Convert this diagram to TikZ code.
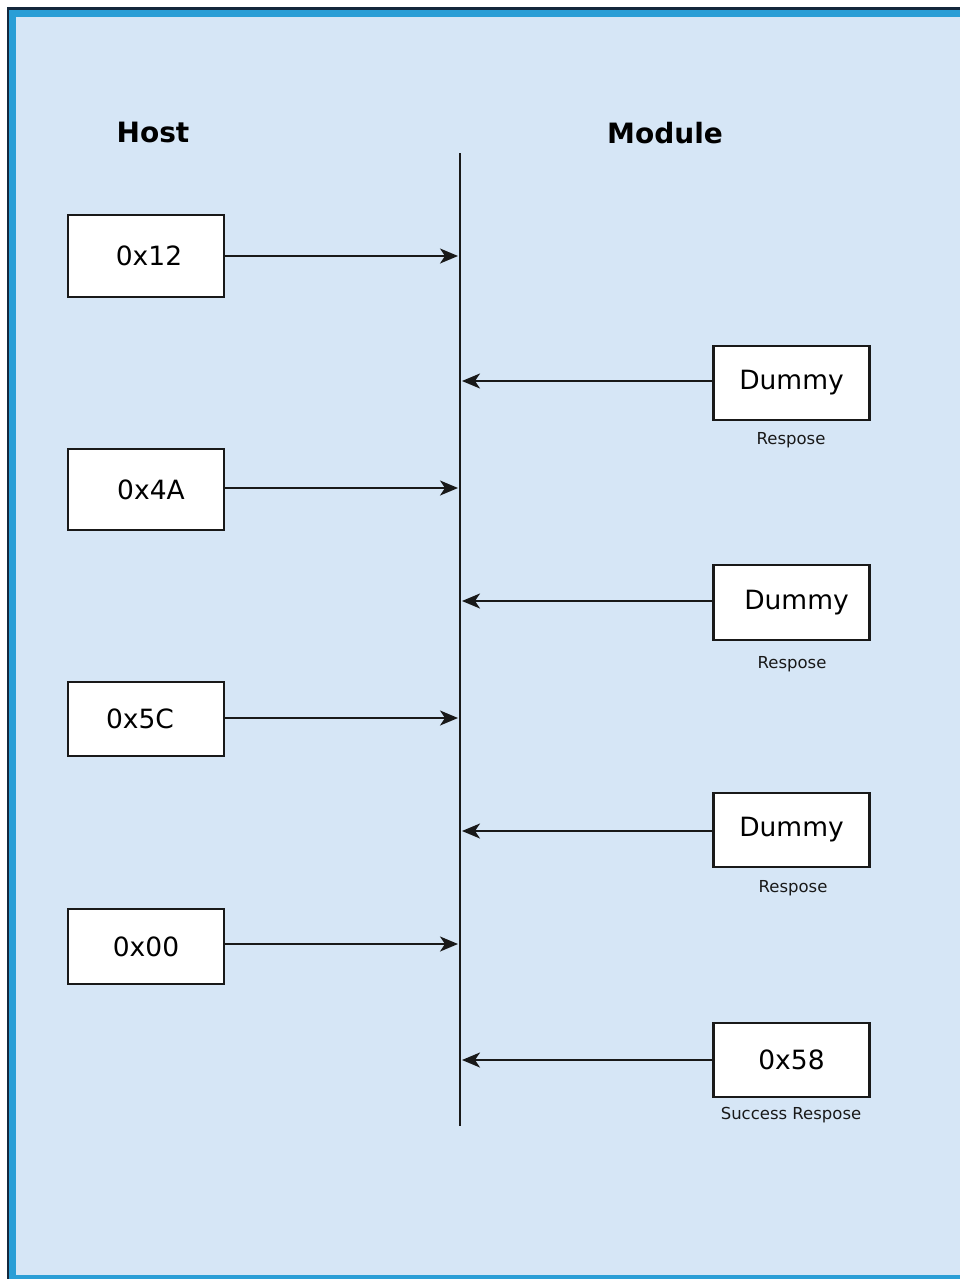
\documentclass[tikz,border=0pt]{standalone}
\usepackage{fontspec}
\setmainfont{DejaVu Sans}
\usetikzlibrary{arrows.meta}
\definecolor{panel}{RGB}{214,230,246}
\definecolor{rim}{RGB}{42,158,214}
\definecolor{rimdark}{RGB}{20,40,60}
\begin{document}
\begin{tikzpicture}[x=1pt,y=-1pt,
  msgbox/.style={draw=black!90,line width=2.5pt,fill=white,minimum width=156pt,inner sep=0pt,font=\fontsize{26.5}{30}\selectfont},
  caption/.style={font=\fontsize{16.5}{18}\selectfont,text=black!90,inner sep=0pt},
  header/.style={font=\bfseries\fontsize{28}{32}\selectfont,inner sep=0pt},
  msg/.style={line width=2.2pt,draw=black!90,-{Stealth[length=18pt,width=15pt,inset=5pt]}}]
\useasboundingbox (0,0) rectangle (960,1279);
% frame and panel
\fill[white] (0,0) rectangle (960,1279);
\fill[rim] (7,7) rectangle (960,1279);
\fill[panel] (16,17) rectangle (960,1275);
\fill[rimdark] (7,7) rectangle (960,10);
\fill[rimdark] (7,7) rectangle (8.5,1279);
% column headers
\node[header] (host) at (153,132) {Host};
\node[header] (module) at (665,133) {Module};
% timeline
\coordinate (top) at (460,153);
\coordinate (bot) at (460,1126);
\draw[line width=2.7pt,black!90] (top) -- (bot);
% host requests
\node[msgbox,minimum height=82pt] (h1) at (146,256) {\hspace*{6pt}0x12};
\node[msgbox,minimum height=81pt] (h2) at (146,489.5) {\hspace*{10pt}0x4A};
\node[msgbox,minimum height=74pt] (h3) at (146,719) {0x5C\hspace*{12pt}};
\node[msgbox,minimum height=75pt] (h4) at (146,946.5) {0x00};
\coordinate (t1) at (458,256);
\coordinate (t2) at (458,488);
\coordinate (t3) at (458,718);
\coordinate (t4) at (458,944);
\draw[msg] (h1.east |- t1) -- (t1);
\draw[msg] (h2.east |- t2) -- (t2);
\draw[msg] (h3.east |- t3) -- (t3);
\draw[msg] (h4.east |- t4) -- (t4);
% module responses
\node[msgbox,minimum height=74pt] (m1) at (791.5,383) {Dummy};
\node[msgbox,minimum height=75pt] (m2) at (791.5,602.5) {\hspace*{10pt}Dummy};
\node[msgbox,minimum height=74pt] (m3) at (791.5,830) {Dummy};
\node[msgbox,minimum height=74pt] (m4) at (791.5,1060) {0x58};
\node[caption] (c1) at (791,440) {Respose};
\node[caption] (c2) at (792,664) {Respose};
\node[caption] (c3) at (793,888) {Respose};
\node[caption] (c4) at (791,1115) {Success Respose};
\coordinate (r1) at (462,381);
\coordinate (r2) at (462,601);
\coordinate (r3) at (462,831);
\coordinate (r4) at (462,1060);
\draw[msg] (m1.west |- r1) -- (r1);
\draw[msg] (m2.west |- r2) -- (r2);
\draw[msg] (m3.west |- r3) -- (r3);
\draw[msg] (m4.west |- r4) -- (r4);
\end{tikzpicture}
\end{document}
